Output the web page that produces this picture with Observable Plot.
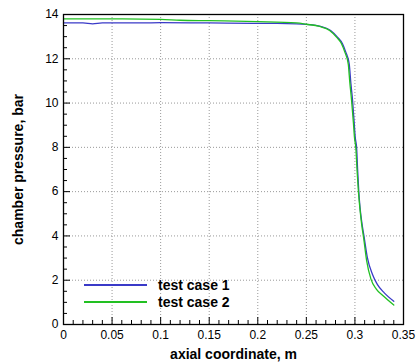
<!DOCTYPE html>
<html><head><meta charset="utf-8">
<script src="https://cdn.jsdelivr.net/npm/d3@7"></script>
<script src="https://cdn.jsdelivr.net/npm/@observablehq/plot@0.6"></script>
<style>
body{margin:0;background:#fff;}
#wrap{position:relative;width:416px;height:364px;font-family:"Liberation Sans",Arial,sans-serif;}
#legend{position:absolute;left:84px;top:276px;font-weight:bold;font-size:14px;color:#000;}
#legend .row{display:flex;align-items:center;height:17px;}
#legend .sw{display:inline-block;width:63px;height:2px;margin-right:11px;}
g[aria-label="x-axis label"], g[aria-label="y-axis label"]{font-weight:bold;font-size:14px;}
</style>
</head><body>
<div id="wrap"></div>
<script>
// test case 1 (blue)
const case1X = [0, 0.02, 0.03, 0.04, 0.08, 0.1, 0.15, 0.2, 0.22, 0.24, 0.25, 0.2646, 0.275, 0.282, 0.2872, 0.2906, 0.2941, 0.2958, 0.2976, 0.2993, 0.3003, 0.3018, 0.3028, 0.3039, 0.3052, 0.3073, 0.3093, 0.3128, 0.318, 0.3232, 0.3302, 0.34];
const case1Y = [13.62, 13.62, 13.58, 13.62, 13.62, 13.63, 13.62, 13.6, 13.6, 13.58, 13.55, 13.46, 13.28, 12.98, 12.68, 12.3, 11.77, 10.9, 10.1, 9.07, 8.46, 7.94, 6.96, 6.06, 5.3, 4.55, 4.0, 3.02, 2.27, 1.8, 1.43, 1.05];
// test case 2 (green)
const case2X = [0, 0.05, 0.1, 0.12, 0.15, 0.2, 0.24, 0.25, 0.2636, 0.274, 0.281, 0.2862, 0.2896, 0.2931, 0.2948, 0.2966, 0.2985, 0.2995, 0.301, 0.3022, 0.3035, 0.305, 0.307, 0.309, 0.312, 0.3165, 0.322, 0.329, 0.34];
const case2Y = [13.8, 13.8, 13.78, 13.74, 13.72, 13.68, 13.62, 13.56, 13.46, 13.28, 12.98, 12.68, 12.3, 11.77, 10.9, 10.1, 9.07, 8.46, 7.94, 6.96, 6.06, 5.3, 4.5, 3.9, 2.9, 2.05, 1.6, 1.3, 0.88];

const seriesNames = ["test case 1", "test case 2"];
const seriesColors = ["#3a3ac8", "#22c022"];

const xTicks = [0, 0.05, 0.1, 0.15, 0.2, 0.25, 0.3, 0.35];
const xMinor = [0.01,0.02,0.03,0.04,0.06,0.07,0.08,0.09,0.11,0.12,0.13,0.14,0.16,0.17,0.18,0.19,0.21,0.22,0.23,0.24,0.26,0.27,0.28,0.29,0.31,0.32,0.33,0.34];
const yTicks = [0, 2, 4, 6, 8, 10, 12, 14];
const yMinor = [0.5,1,1.5,2.5,3,3.5,4.5,5,5.5,6.5,7,7.5,8.5,9,9.5,10.5,11,11.5,12.5,13,13.5];

const s1 = case1X.map((x, i) => ({x, y: case1Y[i]}));
const s2 = case2X.map((x, i) => ({x, y: case2Y[i]}));

const W = 416, H = 364, mL = 63, mR = 13, mT = 14, mB = 40;
const pw = W - mL - mR, ph = H - mT - mB;

const chart = Plot.plot({
  width: W, height: H,
  marginLeft: mL, marginRight: mR, marginTop: mT, marginBottom: mB,
  style: {fontFamily: "'Liberation Sans', Arial, sans-serif", fontSize: "12px", color: "#000", background: "#fff"},
  x: {domain: [0, 0.35]},
  y: {domain: [0, 14]},
  marks: [
    Plot.gridX(xTicks.slice(1, -1), {stroke: "#999", strokeOpacity: 1, strokeDasharray: "1,2"}),
    Plot.gridY(yTicks.slice(1, -1), {stroke: "#999", strokeOpacity: 1, strokeDasharray: "1,2"}),
    Plot.axisX(xTicks, {tickSize: 0, tickPadding: 6, tickFormat: d => String(+d.toFixed(2)),
      label: "axial coordinate, m", labelAnchor: "center", labelOffset: 34, labelArrow: "none"}),
    Plot.axisY(yTicks, {tickSize: 0, tickPadding: 5, tickFormat: d => String(d),
      label: "chamber pressure, bar", labelAnchor: "center", labelOffset: 50, labelArrow: "none"}),
    Plot.tickX(xTicks, {x: d => d, insetTop: ph - 7, stroke: "#000"}),
    Plot.tickX(xMinor, {x: d => d, insetTop: ph - 4, stroke: "#000"}),
    Plot.tickY(yTicks, {y: d => d, insetRight: pw - 7, stroke: "#000"}),
    Plot.tickY(yMinor, {y: d => d, insetRight: pw - 4, stroke: "#000"}),
    Plot.line(s1, {x: "x", y: "y", stroke: seriesColors[0], strokeWidth: 1.3, curve: "monotone-x"}),
    Plot.line(s2, {x: "x", y: "y", stroke: seriesColors[1], strokeWidth: 1.3, curve: "monotone-x"}),
    Plot.frame({stroke: "#000", strokeWidth: 1.3})
  ]
});

const wrap = document.getElementById("wrap");
wrap.appendChild(chart);
const legend = document.createElement("div");
legend.id = "legend";
seriesNames.forEach((name, i) => {
  const row = document.createElement("div");
  row.className = "row";
  const sw = document.createElement("span");
  sw.className = "sw";
  sw.style.background = seriesColors[i];
  const t = document.createElement("span");
  t.textContent = name;
  row.appendChild(sw); row.appendChild(t);
  legend.appendChild(row);
});
wrap.appendChild(legend);
</script>
</body></html>
